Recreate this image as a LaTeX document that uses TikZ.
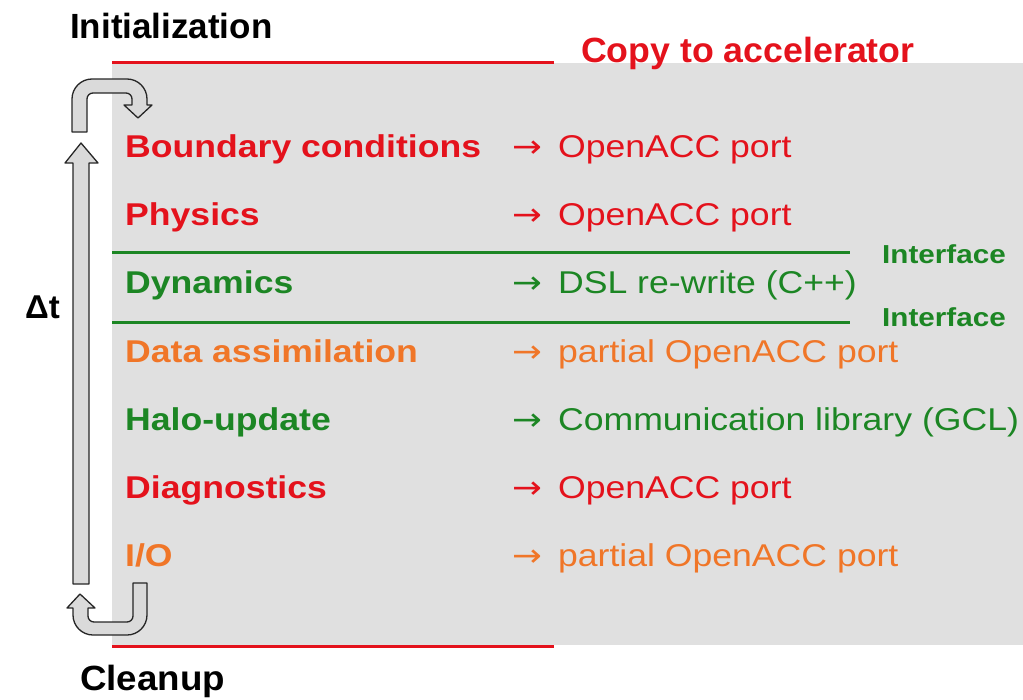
\documentclass[tikz,border=0pt]{standalone}
\usepackage{fontspec}
\setmainfont{Liberation Sans}
\newfontfamily\arrfont{DejaVu Sans}
\usepackage{graphicx}
\definecolor{cred}{RGB}{228,18,28}
\definecolor{cgreen}{RGB}{28,134,36}
\definecolor{corange}{RGB}{240,118,40}
\definecolor{panel}{RGB}{224,224,224}
\definecolor{arrowfill}{RGB}{218,218,218}
\newcommand{\hs}[2][1.13]{\scalebox{#1}[1]{#2}}
\newcommand{\ra}{{\arrfont →}\ \hspace{5.5pt}}
\begin{document}
\begin{tikzpicture}[x=1pt,y=-1pt,
 lbl/.style={anchor=base west, inner sep=0pt, font=\fontsize{31.5}{36}\selectfont\bfseries},
 rlbl/.style={anchor=base west, inner sep=0pt, font=\fontsize{31.5}{36}\selectfont},
 headlbl/.style={anchor=base west, inner sep=0pt, font=\fontsize{35}{40}\selectfont\bfseries},
 iface/.style={anchor=base west, inner sep=0pt, font=\fontsize{26}{30}\selectfont\bfseries, text=cgreen},
 redline/.style={cred, line width=3pt},
 greenline/.style={cgreen, line width=3pt},
 blockarrow/.style={draw=black!85, fill=arrowfill, line width=1.3pt, line join=round}]

\useasboundingbox (0,0) rectangle (1023,699);
\fill[panel] (112,63) rectangle (1023,645);

% red and green separators
\draw[redline] (112,62) -- (554,62);
\draw[redline] (112,646) -- (554,646);
\draw[greenline] (112,252) -- (850,252);
\draw[greenline] (112,322) -- (850,322);

% headings
\node[headlbl, text=black] (init) at (70,38) {Initialization};
\node[headlbl, text=cred] (copy) at (581,62) {\hs[1.02]{Copy to accelerator}};
\node[headlbl, text=black] (clean) at (80,690) {\hs[1.05]{Cleanup}};
\node[headlbl, text=black, font=\fontsize{33}{38}\selectfont\bfseries] (dt) at (25,318) {Δt};
\node[iface] (if1) at (882,263) {\hs[1.14]{Interface}};
\node[iface] (if2) at (882,326) {\hs[1.14]{Interface}};

% left column
\node[lbl, text=cred] (bc) at (125,157) {\hs{Boundary conditions}};
\node[lbl, text=cred] (ph) at (125,225) {\hs{Physics}};
\node[lbl, text=cgreen] (dy) at (125,293) {\hs{Dynamics}};
\node[lbl, text=corange] (da) at (125,362) {\hs{Data assimilation}};
\node[lbl, text=cgreen] (hu) at (125,430) {\hs{Halo-update}};
\node[lbl, text=cred] (di) at (125,498) {\hs{Diagnostics}};
\node[lbl, text=corange] (io) at (125,566) {\hs{I/O}};

% right column
\node[rlbl, text=cred] (bcr) at (512,157) {\hs{\ra OpenACC port}};
\node[rlbl, text=cred] (phr) at (512,225) {\hs{\ra OpenACC port}};
\node[rlbl, text=cgreen] (dyr) at (512,293) {\hs{\ra DSL re-write (C++)}};
\node[rlbl, text=corange] (dar) at (512,362) {\hs{\ra partial OpenACC port}};
\node[rlbl, text=cgreen] (hur) at (512,430) {\hs{\ra Communication library (GCL)}};
\node[rlbl, text=cred] (dir) at (512,498) {\hs{\ra OpenACC port}};
\node[rlbl, text=corange] (ior) at (512,566) {\hs{\ra partial OpenACC port}};

% main time-step arrow
\draw[blockarrow] (73,584) -- (73,163) -- (65,163) -- (81,143) -- (98,163) -- (89,163) -- (89,584) -- cycle;

% top curved arrow
\draw[blockarrow] (72,132) [rounded corners=20pt] -- (72,79) -- (147,79) [sharp corners] -- (147,105)
  -- (152,105) -- (138,118) -- (124,105) -- (132,105) [rounded corners=6pt] -- (132,93) -- (87,93) [sharp corners] -- (87,132) -- cycle;

% bottom curved arrow
\draw[blockarrow] (147,583) [rounded corners=20pt] -- (147,635) -- (73,635) [sharp corners] -- (73,608)
  -- (67,608) -- (80,594) -- (95,608) -- (88,608) [rounded corners=6pt] -- (88,622) -- (133,622) [sharp corners] -- (133,583) -- cycle;
\end{tikzpicture}
\end{document}
